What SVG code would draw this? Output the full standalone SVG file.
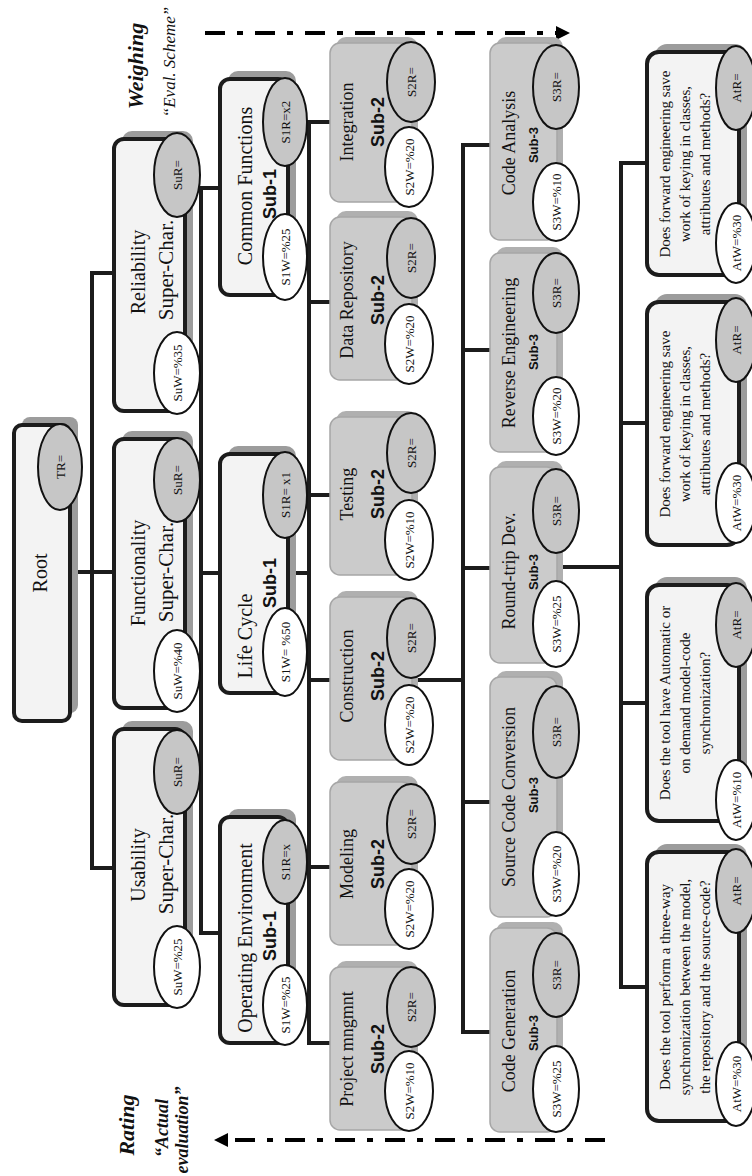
<svg xmlns="http://www.w3.org/2000/svg" width="752" height="1176" viewBox="0 0 752 1176">
<style>
.sh{fill:#9c9c9c}
.bx{fill:#f3f3f3;stroke:#1c1c1c;stroke-width:4}
.sh2{fill:#b0b0b0}
.gb{fill:#cbcbcb;stroke:#a6a6a6;stroke-width:1.5}
.er{fill:#c6c6c6;stroke:#111;stroke-width:2}
.ew{fill:#fff;stroke:#111;stroke-width:2}
.et{font-family:"Liberation Serif",serif;font-size:13px;text-anchor:middle;dominant-baseline:central;fill:#111}
.nm{font-family:"Liberation Serif",serif;font-size:20px;text-anchor:middle;fill:#111}
.sc{font-family:"Liberation Serif",serif;font-size:21px;text-anchor:middle;fill:#111}
.n2{font-family:"Liberation Serif",serif;font-size:18px;text-anchor:middle;fill:#111}
.sb{font-family:"Liberation Sans",sans-serif;font-weight:bold;font-size:18px;text-anchor:middle;fill:#111}
.s3{font-family:"Liberation Sans",sans-serif;font-weight:bold;font-size:13px;text-anchor:middle;fill:#111}
.q{font-family:"Liberation Serif",serif;font-size:15px;text-anchor:middle;fill:#111}
.ln{stroke:#1c1c1c;stroke-width:4;fill:none;stroke-linecap:square}
.da{stroke:#000;stroke-width:4;fill:none;stroke-dasharray:20 12 6 12}
.lb{font-family:"Liberation Serif",serif;font-style:italic;font-weight:bold;font-size:22px;text-anchor:middle;fill:#111}
.li{font-family:"Liberation Serif",serif;font-style:italic;font-size:17px;text-anchor:middle;fill:#111}
.lib{font-family:"Liberation Serif",serif;font-style:italic;font-weight:bold;font-size:18px;text-anchor:middle;fill:#111}
</style>
<defs>
<marker id="ah" markerWidth="16" markerHeight="16" refX="2" refY="8" orient="auto" markerUnits="userSpaceOnUse"><path d="M0,1 L14,8 L0,15 Z" fill="#000"/></marker>
</defs>
<rect width="752" height="1176" fill="#fff"/>
<g transform="translate(0,1176) rotate(-90)">
<g id="connectors">
<path class="ln" d="M604,72 V92 M308,92 H903 M308,92 V112 M604,92 V112 M903,92 V112"/>
<path class="ln" d="M243,201 H988 M243,201 V218 M603,201 V218 M988,201 V218"/>
<path class="ln" d="M603,290 V309 M133,309 H1054 M1054,309 V330 M874,309 V330 M681,309 V330 M496,309 V330 M309,309 V330 M133,309 V330"/>
<path class="ln" d="M496,413 V463 M144,463 H1031 M1031,463 V490 M826,463 V490 M608,463 V490 M374,463 V490 M144,463 V490"/>
<path class="ln" d="M609,557 V621 M189,621 H1013 M1013,621 V645 M753,621 V645 M473,621 V645 M189,621 V645"/>
<line class="da" x1="1143" y1="205" x2="1143" y2="558" marker-end="url(#ah)"/>
<line class="da" x1="36" y1="605" x2="36" y2="226" marker-end="url(#ah)"/>
</g>
<g id="legend">
<text class="lb" x="1110" y="143">Weighing</text>
<text class="li" x="1114" y="175">“Eval. Scheme”</text>
<text class="lb" x="51" y="134">Rating</text>
<text class="lib" x="48" y="168">“Actual</text>
<text class="lib" x="46" y="188">evaluation”</text>
</g>
<g id="root">
<rect class="sh" x="463" y="22" width="296" height="56" rx="8"/>
<rect class="bx" x="455" y="14" width="296" height="56" rx="8"/>
<text class="nm" x="603" y="47">Root</text>
<ellipse class="er" cx="709" cy="60" rx="43" ry="22"/><text class="et" x="709" y="60">TR=</text>
</g>
<g id="reliability">
<rect class="sh" x="773" y="122" width="272" height="71" rx="10"/>
<rect class="bx" x="765" y="114" width="272" height="71" rx="10"/>
<text class="nm" x="904" y="145">Reliability</text>
<text class="sc" x="906" y="173">Super-Char.</text>
<ellipse class="er" cx="1001" cy="177" rx="42" ry="23"/><text class="et" x="1001" y="177">SuR=</text>
<ellipse class="ew" cx="803" cy="177" rx="41" ry="23"/><text class="et" x="803" y="177">SuW=%35</text>
</g>
<g id="functionality">
<rect class="sh" x="476" y="122" width="269" height="71" rx="10"/>
<rect class="bx" x="468" y="114" width="269" height="71" rx="10"/>
<text class="nm" x="603" y="145">Functionality</text>
<text class="sc" x="604" y="173">Super-Char.</text>
<ellipse class="er" cx="696" cy="177" rx="42" ry="23"/><text class="et" x="696" y="177">SuR=</text>
<ellipse class="ew" cx="505" cy="177" rx="41" ry="23"/><text class="et" x="505" y="177">SuW=%40</text>
</g>
<g id="usability">
<rect class="sh" x="179" y="122" width="276" height="71" rx="10"/>
<rect class="bx" x="171" y="114" width="276" height="71" rx="10"/>
<text class="nm" x="311" y="145">Usability</text>
<text class="sc" x="312" y="173">Super-Char.</text>
<ellipse class="er" cx="404" cy="177" rx="42" ry="23"/><text class="et" x="404" y="177">SuR=</text>
<ellipse class="ew" cx="209" cy="177" rx="41" ry="23"/><text class="et" x="209" y="177">SuW=%25</text>
</g>
<g id="common-functions">
<rect class="sh" x="889" y="228" width="216" height="68" rx="10"/>
<rect class="bx" x="881" y="220" width="216" height="68" rx="10"/>
<text class="nm" x="990" y="252">Common Functions</text>
<text class="sb" x="982" y="276">Sub-1</text>
<ellipse class="er" cx="1054" cy="285" rx="44" ry="22"/><text class="et" x="1054" y="285">S1R=x2</text>
<ellipse class="ew" cx="919" cy="285" rx="43" ry="22"/><text class="et" x="919" y="285">S1W=%25</text>
</g>
<g id="life-cycle">
<rect class="sh" x="491" y="228" width="239" height="68" rx="10"/>
<rect class="bx" x="483" y="220" width="239" height="68" rx="10"/>
<text class="nm" x="540" y="252">Life Cycle</text>
<text class="sb" x="593" y="276">Sub-1</text>
<ellipse class="er" cx="681" cy="285" rx="43" ry="22"/><text class="et" x="681" y="285">S1R= x1</text>
<ellipse class="ew" cx="524" cy="285" rx="44" ry="22"/><text class="et" x="524" y="285">S1W= %50</text>
</g>
<g id="operating-environment">
<rect class="sh" x="141" y="228" width="226" height="68" rx="10"/>
<rect class="bx" x="133" y="220" width="226" height="68" rx="10"/>
<text class="nm" x="238" y="252">Operating Environment</text>
<text class="sb" x="240" y="276">Sub-1</text>
<ellipse class="er" cx="314" cy="285" rx="42" ry="22"/><text class="et" x="314" y="285">S1R=x</text>
<ellipse class="ew" cx="171" cy="285" rx="40" ry="22"/><text class="et" x="171" y="285">S1W=%25</text>
</g>
<g id="integration">
<rect class="sh2" x="980" y="336" width="159" height="82" rx="10"/>
<rect class="gb" x="974" y="330" width="159" height="82" rx="10"/>
<text class="n2" x="1054" y="353">Integration</text>
<text class="sb" x="1054" y="384">Sub-2</text>
<ellipse class="er" cx="1094" cy="411" rx="40" ry="24"/><text class="et" x="1094" y="411">S2R=</text>
<ellipse class="ew" cx="1009" cy="409" rx="40" ry="24"/><text class="et" x="1009" y="409">S2W=%20</text>
</g>
<g id="data-repository">
<rect class="sh2" x="802" y="336" width="163" height="82" rx="10"/>
<rect class="gb" x="796" y="330" width="163" height="82" rx="10"/>
<text class="n2" x="876" y="353">Data  Repository</text>
<text class="sb" x="876" y="384">Sub-2</text>
<ellipse class="er" cx="918" cy="411" rx="40" ry="24"/><text class="et" x="918" y="411">S2R=</text>
<ellipse class="ew" cx="832" cy="409" rx="40" ry="24"/><text class="et" x="832" y="409">S2W=%20</text>
</g>
<g id="testing">
<rect class="sh2" x="607" y="336" width="158" height="82" rx="10"/>
<rect class="gb" x="601" y="330" width="158" height="82" rx="10"/>
<text class="n2" x="682" y="353">Testing</text>
<text class="sb" x="682" y="384">Sub-2</text>
<ellipse class="er" cx="723" cy="411" rx="40" ry="24"/><text class="et" x="723" y="411">S2R=</text>
<ellipse class="ew" cx="636" cy="409" rx="40" ry="24"/><text class="et" x="636" y="409">S2W=%10</text>
</g>
<g id="construction">
<rect class="sh2" x="422" y="336" width="163" height="82" rx="10"/>
<rect class="gb" x="416" y="330" width="163" height="82" rx="10"/>
<text class="n2" x="500" y="353">Construction</text>
<text class="sb" x="500" y="384">Sub-2</text>
<ellipse class="er" cx="538" cy="411" rx="40" ry="24"/><text class="et" x="538" y="411">S2R=</text>
<ellipse class="ew" cx="451" cy="409" rx="40" ry="24"/><text class="et" x="451" y="409">S2W=%20</text>
</g>
<g id="modeling">
<rect class="sh2" x="237" y="336" width="163" height="82" rx="10"/>
<rect class="gb" x="231" y="330" width="163" height="82" rx="10"/>
<text class="n2" x="312" y="353">Modeling</text>
<text class="sb" x="312" y="384">Sub-2</text>
<ellipse class="er" cx="352" cy="411" rx="40" ry="24"/><text class="et" x="352" y="411">S2R=</text>
<ellipse class="ew" cx="267" cy="409" rx="40" ry="24"/><text class="et" x="267" y="409">S2W=%20</text>
</g>
<g id="project-mngmnt">
<rect class="sh2" x="52" y="336" width="163" height="82" rx="10"/>
<rect class="gb" x="46" y="330" width="163" height="82" rx="10"/>
<text class="n2" x="127" y="353">Project mngmnt</text>
<text class="sb" x="127" y="384">Sub-2</text>
<ellipse class="er" cx="169" cy="411" rx="40" ry="24"/><text class="et" x="169" y="411">S2R=</text>
<ellipse class="ew" cx="85" cy="409" rx="40" ry="24"/><text class="et" x="85" y="409">S2W=%10</text>
</g>
<g id="code-analysis">
<rect class="sh2" x="942" y="496" width="197" height="67" rx="10"/>
<rect class="gb" x="936" y="490" width="197" height="67" rx="10"/>
<text class="n2" x="1033" y="515">Code Analysis</text>
<text class="s3" x="1031" y="538">Sub-3</text>
<ellipse class="er" cx="1089" cy="556" rx="42" ry="23"/><text class="et" x="1089" y="556">S3R=</text>
<ellipse class="ew" cx="974" cy="556" rx="39" ry="23"/><text class="et" x="974" y="556">S3W=%10</text>
</g>
<g id="reverse-engineering">
<rect class="sh2" x="730" y="496" width="199" height="67" rx="10"/>
<rect class="gb" x="724" y="490" width="199" height="67" rx="10"/>
<text class="n2" x="823" y="515">Reverse Engineering</text>
<text class="s3" x="824" y="538">Sub-3</text>
<ellipse class="er" cx="883" cy="556" rx="40" ry="23"/><text class="et" x="883" y="556">S3R=</text>
<ellipse class="ew" cx="760" cy="556" rx="39" ry="23"/><text class="et" x="760" y="556">S3W=%20</text>
</g>
<g id="round-trip-dev">
<rect class="sh2" x="519" y="496" width="196" height="67" rx="10"/>
<rect class="gb" x="513" y="490" width="196" height="67" rx="10"/>
<text class="n2" x="605" y="515">Round-trip Dev.</text>
<text class="s3" x="604" y="538">Sub-3</text>
<ellipse class="er" cx="665" cy="556" rx="42" ry="23"/><text class="et" x="665" y="556">S3R=</text>
<ellipse class="ew" cx="552" cy="556" rx="43" ry="23"/><text class="et" x="552" y="556">S3W=%25</text>
</g>
<g id="source-code-conversion">
<rect class="sh2" x="265" y="496" width="240" height="67" rx="10"/>
<rect class="gb" x="259" y="490" width="240" height="67" rx="10"/>
<text class="n2" x="379" y="515">Source Code Conversion</text>
<text class="s3" x="381" y="538">Sub-3</text>
<ellipse class="er" cx="444" cy="556" rx="46" ry="23"/><text class="et" x="444" y="556">S3R=</text>
<ellipse class="ew" cx="302" cy="556" rx="42" ry="23"/><text class="et" x="302" y="556">S3W=%20</text>
</g>
<g id="code-generation">
<rect class="sh2" x="50" y="496" width="204" height="67" rx="10"/>
<rect class="gb" x="44" y="490" width="204" height="67" rx="10"/>
<text class="n2" x="145" y="515">Code Generation</text>
<text class="s3" x="143" y="538">Sub-3</text>
<ellipse class="er" cx="201" cy="556" rx="42" ry="23"/><text class="et" x="201" y="556">S3R=</text>
<ellipse class="ew" cx="87" cy="556" rx="43" ry="23"/><text class="et" x="87" y="556">S3W=%25</text>
</g>
<g id="q-forward-2">
<rect class="sh" x="909" y="655" width="223" height="92" rx="12"/>
<rect class="bx" x="901" y="647" width="223" height="92" rx="12"/>
<text class="q" x="1012" y="670">Does forward engineering save</text>
<text class="q" x="1012" y="690">work of keying in classes,</text>
<text class="q" x="1012" y="710">attributes and methods?</text>
<ellipse class="er" cx="1088" cy="736" rx="42" ry="20"/><text class="et" x="1088" y="736">AtR=</text>
<ellipse class="ew" cx="933" cy="736" rx="40" ry="20"/><text class="et" x="933" y="736">AtW=%30</text>
</g>
<g id="q-forward-1">
<rect class="sh" x="639" y="655" width="243" height="92" rx="12"/>
<rect class="bx" x="631" y="647" width="243" height="92" rx="12"/>
<text class="q" x="752" y="670">Does forward engineering save</text>
<text class="q" x="752" y="690">work of keying in classes,</text>
<text class="q" x="752" y="710">attributes and methods?</text>
<ellipse class="er" cx="836" cy="736" rx="42" ry="20"/><text class="et" x="836" y="736">AtR=</text>
<ellipse class="ew" cx="673" cy="736" rx="40" ry="20"/><text class="et" x="673" y="736">AtW=%30</text>
</g>
<g id="q-automatic">
<rect class="sh" x="363" y="655" width="236" height="92" rx="12"/>
<rect class="bx" x="355" y="647" width="236" height="92" rx="12"/>
<text class="q" x="473" y="670">Does the tool have Automatic or</text>
<text class="q" x="473" y="690">on demand model-code</text>
<text class="q" x="473" y="710">synchronization?</text>
<ellipse class="er" cx="551" cy="736" rx="42" ry="20"/><text class="et" x="551" y="736">AtR=</text>
<ellipse class="ew" cx="376" cy="736" rx="40" ry="20"/><text class="et" x="376" y="736">AtW=%10</text>
</g>
<g id="q-three-way">
<rect class="sh" x="63" y="655" width="269" height="92" rx="12"/>
<rect class="bx" x="55" y="647" width="269" height="92" rx="12"/>
<text class="q" x="189" y="670">Does the tool perform a three-way</text>
<text class="q" x="189" y="690">synchronization between the model,</text>
<text class="q" x="189" y="710">the repository and the source-code?</text>
<ellipse class="er" cx="285" cy="736" rx="42" ry="20"/><text class="et" x="285" y="736">AtR=</text>
<ellipse class="ew" cx="92" cy="736" rx="42" ry="20"/><text class="et" x="92" y="736">AtW=%30</text>
</g>
</g>
</svg>
